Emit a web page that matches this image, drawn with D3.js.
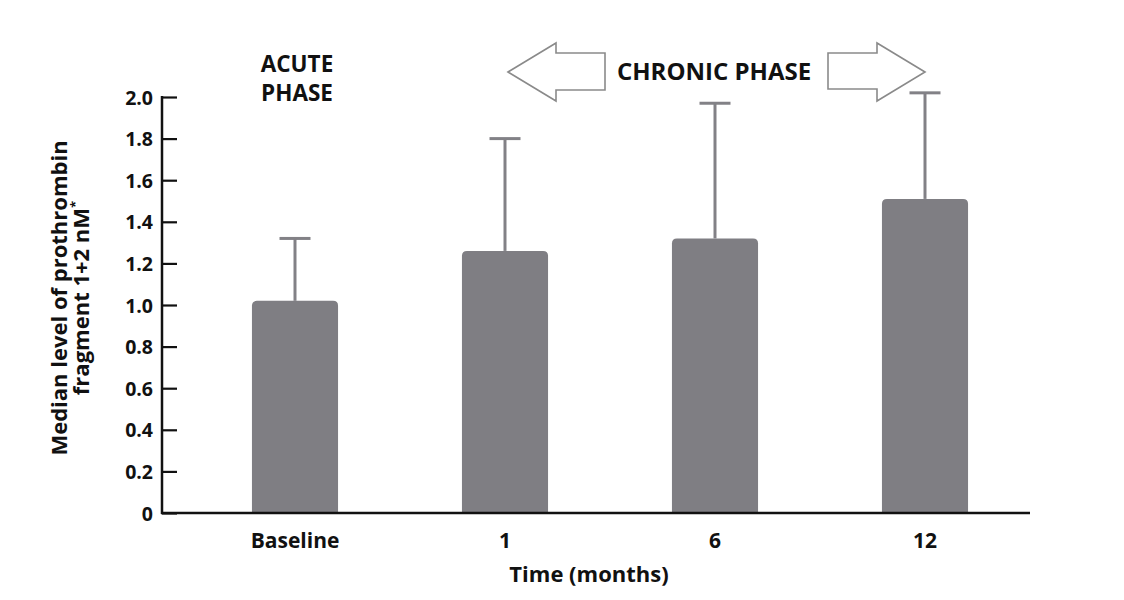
<!DOCTYPE html>
<html>
<head>
<meta charset="utf-8">
<script src="https://cdn.jsdelivr.net/npm/d3@7"></script>
<style>
  html, body { margin: 0; padding: 0; background: #fff; }
  svg { display: block; }
  text { font-family: "Open Sans", "Noto Sans", sans-serif; font-weight: 700; fill: #111; }
</style>
</head>
<body>
<svg id="chart" width="1124" height="600"></svg>
<script>
const categories = ["Baseline", "1", "6", "12"];
const medians = [1.02, 1.26, 1.32, 1.51];
const upperErrors = [1.32, 1.80, 1.97, 2.02];
const yTicks = [0, 0.2, 0.4, 0.6, 0.8, 1.0, 1.2, 1.4, 1.6, 1.8, 2.0];
const phaseLines = ["ACUTE", "PHASE"];

const svg = d3.select("#chart");
const barColor = "#7f7e83";
const errColor = "#828186";

const y = d3.scaleLinear().domain([0, 2]).range([513, 97]);
const x = d3.scaleBand().domain(categories).range([190, 1030]).paddingInner(0.59).paddingOuter(0.295);

function barPath(x0, w, yTop, yBot, r) {
  return `M${x0},${yBot} L${x0},${yTop + r} Q${x0},${yTop} ${x0 + r},${yTop} L${x0 + w - r},${yTop} Q${x0 + w},${yTop} ${x0 + w},${yTop + r} L${x0 + w},${yBot} Z`;
}

const data = categories.map((c, i) => ({ c, v: medians[i], e: upperErrors[i] }));

// Error bars
const eg = svg.append("g");
eg.selectAll("line.stem").data(data).join("line")
  .attr("x1", d => x(d.c) + x.bandwidth() / 2)
  .attr("x2", d => x(d.c) + x.bandwidth() / 2)
  .attr("y1", d => y(d.v))
  .attr("y2", d => y(d.e))
  .attr("stroke", errColor).attr("stroke-width", 3);
eg.selectAll("line.cap").data(data).join("line")
  .attr("x1", d => x(d.c) + x.bandwidth() / 2 - 15.5)
  .attr("x2", d => x(d.c) + x.bandwidth() / 2 + 15.5)
  .attr("y1", d => y(d.e))
  .attr("y2", d => y(d.e))
  .attr("stroke", errColor).attr("stroke-width", 3);

svg.append("g").selectAll("path").data(data).join("path")
  .attr("d", d => barPath(x(d.c), x.bandwidth(), y(d.v), y(0), 5))
  .attr("fill", barColor);

// Y axis
const yAxis = d3.axisRight(y).tickValues(yTicks).tickSize(15)
  .tickFormat(d => d === 0 ? "0" : d3.format(".1f")(d));
const ya = svg.append("g").attr("transform", "translate(162,0)").call(yAxis);
ya.select(".domain").remove();
ya.selectAll(".tick line").attr("stroke", "#111").attr("stroke-width", 2.2);
ya.selectAll(".tick text")
  .attr("x", -9).attr("text-anchor", "end").attr("dy", "0.36em")
  .style("font-size", "19.5px").style("font-family", '"Open Sans", sans-serif').style("font-weight", 700).attr("fill", "#111");
svg.append("line").attr("x1", 162).attr("x2", 162).attr("y1", y(2) - 1).attr("y2", y(0) + 1)
  .attr("stroke", "#111").attr("stroke-width", 2.5);

// X axis
const xAxis = d3.axisBottom(x).tickSize(0);
const xa = svg.append("g").attr("transform", `translate(0,${y(0)})`).call(xAxis);
xa.select(".domain").remove();
xa.selectAll(".tick text").attr("y", 27).attr("dy", "0.36em")
  .style("font-size", "21px").style("font-family", '"Open Sans", sans-serif').style("font-weight", 700).attr("fill", "#111");
svg.append("line").attr("x1", 161).attr("x2", 1030).attr("y1", y(0)).attr("y2", y(0))
  .attr("stroke", "#111").attr("stroke-width", 2.5);

// Axis titles
svg.append("text").attr("x", 589).attr("y", 582).attr("text-anchor", "middle")
  .style("font-size", "22px").text("Time (months)");

const yt = svg.append("text").attr("transform", "translate(0,298) rotate(-90)").attr("text-anchor", "middle")
  .style("font-size", "22px");
yt.append("tspan").attr("x", 0).attr("y", 67).text("Median level of prothrombin");
yt.append("tspan").attr("x", 0).attr("y", 89).text("fragment 1+2 nM");
yt.append("tspan").attr("dy", -9).style("font-size", "13px").text("*");

// Phase labels
svg.append("g").selectAll("text").data(phaseLines).join("text")
  .attr("x", 297).attr("y", (d, i) => 72 + i * 29)
  .attr("text-anchor", "middle").style("font-size", "22.5px").text(d => d);

svg.append("text").attr("x", 714).attr("y", 80).attr("text-anchor", "middle")
  .style("font-size", "24px").text("CHRONIC PHASE");

// Arrows
const arrowStroke = "#8a8a8a";
svg.append("path")
  .attr("d", "M508,72 L556,43 L556,53 L605,53 L605,90 L556,90 L556,101 Z")
  .attr("fill", "none").attr("stroke", arrowStroke).attr("stroke-width", 1.6);
svg.append("path")
  .attr("d", "M925,72 L877,43 L877,53 L828,53 L828,89 L877,89 L877,101 Z")
  .attr("fill", "none").attr("stroke", arrowStroke).attr("stroke-width", 1.6);
</script>
</body>
</html>
